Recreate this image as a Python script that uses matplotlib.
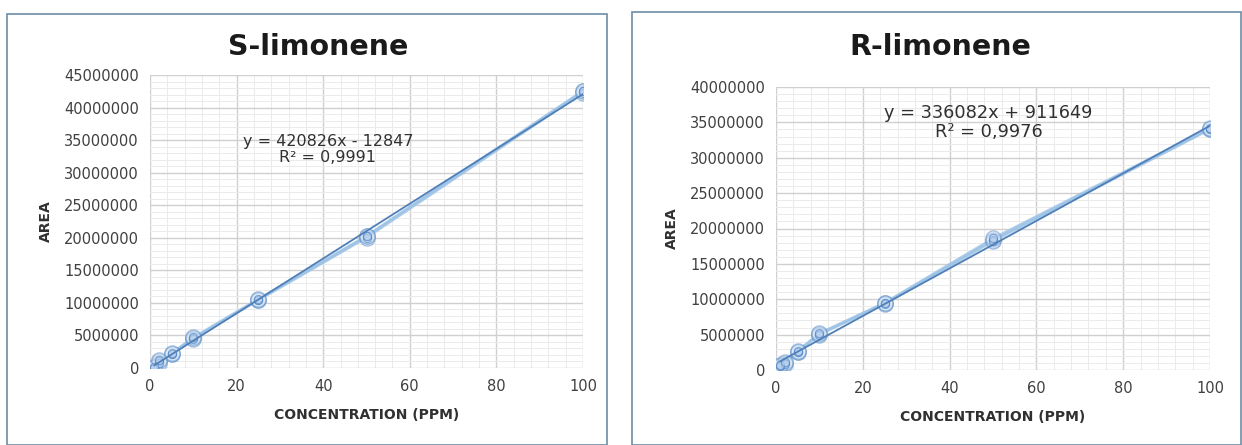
import numpy as np
import matplotlib
matplotlib.use('Agg')
import matplotlib.pyplot as plt
from matplotlib.patches import Rectangle
from matplotlib.ticker import MultipleLocator

# concentrations (ppm)
conc = [1, 2, 5, 10, 25, 50, 100]

# S-limonene replicate areas
s_rep1 = [50000, 1000000, 2200000, 4600000, 10500000, 20200000, 42500000]
s_rep2 = [0, 800000, 2100000, 4500000, 10400000, 20000000, 42300000]
s_rep3 = [200000, 1200000, 2300000, 4700000, 10600000, 20300000, 42600000]
s_slope, s_icpt = 420826, -12847

# R-limonene replicate areas
r_rep1 = [600000, 1000000, 2600000, 5100000, 9400000, 18400000, 34100000]
r_rep2 = [500000, 900000, 2500000, 5000000, 9300000, 18200000, 34000000]
r_rep3 = [700000, 1100000, 2700000, 5200000, 9500000, 18600000, 34200000]
r_slope, r_icpt = 336082, 911649

fig = plt.figure(figsize=(12.42, 4.45), dpi=100)

# panel frames
fig.patches.append(Rectangle((7/1242, 0), 600/1242, 1 - 14/445, transform=fig.transFigure,
                             fill=False, edgecolor='#6d8ea6', lw=1.2))
fig.patches.append(Rectangle((632/1242, 0), 609/1242, 1 - 12/445, transform=fig.transFigure,
                             fill=False, edgecolor='#6d8ea6', lw=1.2))

def PANEL(rect, title, title_x, reps, slope, icpt, ymax, eq, r2, eq_pos, eq_size):
    ax = fig.add_axes(rect)
    x = np.array(conc)
    for rep in reps:
        ax.plot(x, rep, color='#9dc3e6', lw=1.8, alpha=0.8, zorder=3)
        ax.scatter(x, rep, s=120, facecolor='#dbe8f6', edgecolor='#5b8ec9', lw=1.0, alpha=0.5, zorder=4)
        ax.scatter(x, rep, s=35, facecolor='#b7d1ee', edgecolor='#4a7fc0', lw=0.8, alpha=0.6, zorder=5)
    xx = np.array([x.min(), x.max()])
    ax.plot(xx, slope * xx + icpt, color='#4f7fb8', lw=1.3, zorder=6)
    ax.set_xlim(0, 100)
    ax.set_ylim(0, ymax)
    ax.xaxis.set_major_locator(MultipleLocator(20))
    ax.xaxis.set_minor_locator(MultipleLocator(4))
    ax.yaxis.set_major_locator(MultipleLocator(5000000))
    ax.yaxis.set_minor_locator(MultipleLocator(1000000))
    ax.grid(which='major', color='#d0d0d0', lw=1.0)
    ax.grid(which='minor', color='#ebebeb', lw=0.7)
    ax.set_axisbelow(True)
    for s in ax.spines.values():
        s.set_visible(False)
    ax.tick_params(which='both', length=0, labelsize=10.5, colors='#404040', pad=8)
    ax.ticklabel_format(style='plain', axis='y', useOffset=False)
    ax.set_xlabel('CONCENTRATION (PPM)', fontsize=10, fontweight='bold', color='#303030', labelpad=10)
    ax.set_ylabel('AREA', fontsize=10, fontweight='bold', color='#303030', labelpad=8)
    ax.text(eq_pos[0], eq_pos[1], eq + '\n' + r2, transform=ax.transAxes, ha='center', va='top',
            fontsize=eq_size, color='#303030', linespacing=1.1)
    fig.text(title_x, 1 - 47/445, title, ha='center', va='center',
             fontsize=20.5, fontweight='bold', color='#1a1a1a')
    return ax

PANEL([150/1242, 1 - 368/445, 433/1242, 293/445], 'S-limonene', 318/1242,
      [s_rep1, s_rep2, s_rep3], s_slope, s_icpt, 45000000,
      'y = 420826x - 12847', 'R² = 0,9991', (0.411, 0.80), 11.5)
PANEL([776/1242, 1 - 370/445, 434/1242, 283/445], 'R-limonene', 940/1242,
      [r_rep1, r_rep2, r_rep3], r_slope, r_icpt, 40000000,
      'y = 336082x + 911649', 'R² = 0,9976', (0.49, 0.94), 12.8)

fig.savefig('out.png', dpi=100, facecolor='white')
